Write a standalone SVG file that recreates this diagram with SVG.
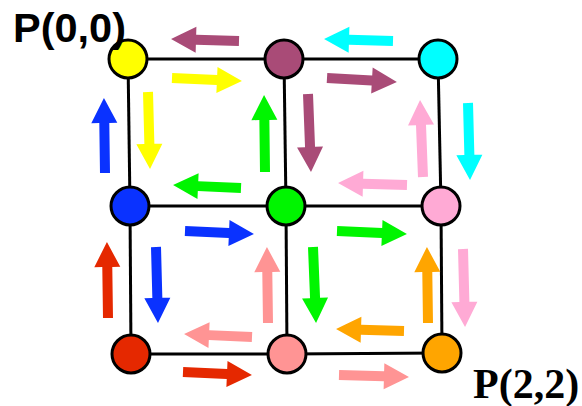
<svg xmlns="http://www.w3.org/2000/svg" width="582" height="406" viewBox="0 0 582 406">
  <style>
    .edge { stroke: #000; stroke-width: 3; fill: none; }
    .node { stroke: #000; stroke-width: 3; }
    .lbl-sans { font-family: "Liberation Sans", Arial, sans-serif; font-weight: bold; font-size: 40px; fill: #000; }
    .lbl-serif { font-family: "Liberation Serif", "Times New Roman", serif; font-weight: bold; font-size: 42px; fill: #000; }
    .yellow { fill: #FFFF00; }
    .purple { fill: #A94B77; }
    .cyan { fill: #00FFFF; }
    .blue { fill: #0A32FF; }
    .green { fill: #00F500; }
    .pink { fill: #FFAAD5; }
    .red { fill: #E52800; }
    .salmon { fill: #FF9494; }
    .orange { fill: #FFA500; }
  </style>

  <!-- grid connectors -->
  <g id="connectors">
    <line class="edge" x1="128" y1="59" x2="284" y2="59"/>
    <line class="edge" x1="284" y1="59" x2="438" y2="59"/>
    <line class="edge" x1="130" y1="206" x2="286" y2="206"/>
    <line class="edge" x1="286" y1="206" x2="441" y2="206"/>
    <line class="edge" x1="131" y1="354" x2="287" y2="354"/>
    <line class="edge" x1="287" y1="354" x2="442" y2="353"/>
    <line class="edge" x1="128" y1="59" x2="130" y2="206"/>
    <line class="edge" x1="130" y1="206" x2="131" y2="354"/>
    <line class="edge" x1="284" y1="59" x2="286" y2="206"/>
    <line class="edge" x1="286" y1="206" x2="287" y2="354"/>
    <line class="edge" x1="438" y1="59" x2="441" y2="206"/>
    <line class="edge" x1="441" y1="206" x2="442" y2="353"/>
  </g>

  <!-- flow arrows: each drawn pointing along +x from its tail, then placed -->
  <g id="arrows">
    <!-- top row -->
    <path class="purple" transform="translate(239,41) rotate(181.7)" d="M0,-5 H43 V-13 L68,0 L43,13 V5 H0 Z"/>
    <path class="yellow" transform="translate(172,78) rotate(2.5)" d="M0,-5 H45 V-13 L70,0 L45,13 V5 H0 Z"/>
    <path class="cyan" transform="translate(393,41) rotate(181.7)" d="M0,-5 H44 V-13 L69,0 L44,13 V5 H0 Z"/>
    <path class="purple" transform="translate(327,78) rotate(3.3)" d="M0,-5 H45 V-13 L70,0 L45,13 V5 H0 Z"/>
    <!-- upper verticals -->
    <path class="blue" transform="translate(105,173) rotate(269.2)" d="M0,-5 H50 V-13 L75,0 L50,13 V5 H0 Z"/>
    <path class="yellow" transform="translate(148,92) rotate(88.5)" d="M0,-5 H52 V-13 L77,0 L52,13 V5 H0 Z"/>
    <path class="green" transform="translate(265,172) rotate(269.3)" d="M0,-5 H52 V-13 L77,0 L52,13 V5 H0 Z"/>
    <path class="purple" transform="translate(308,94) rotate(87.8)" d="M0,-5 H53 V-13 L78,0 L53,13 V5 H0 Z"/>
    <path class="pink" transform="translate(423,177) rotate(267.8)" d="M0,-5 H52 V-13 L77,0 L52,13 V5 H0 Z"/>
    <path class="cyan" transform="translate(468,103) rotate(88.5)" d="M0,-5 H52 V-13 L77,0 L52,13 V5 H0 Z"/>
    <!-- middle row -->
    <path class="green" transform="translate(241,188) rotate(182.5)" d="M0,-5 H43 V-13 L68,0 L43,13 V5 H0 Z"/>
    <path class="blue" transform="translate(185,231) rotate(2.5)" d="M0,-5 H44 V-13 L69,0 L44,13 V5 H0 Z"/>
    <path class="pink" transform="translate(407,185) rotate(181.7)" d="M0,-5 H44 V-13 L69,0 L44,13 V5 H0 Z"/>
    <path class="green" transform="translate(337,231) rotate(2.5)" d="M0,-5 H45 V-13 L70,0 L45,13 V5 H0 Z"/>
    <!-- lower verticals -->
    <path class="red" transform="translate(108,318) rotate(269.2)" d="M0,-5 H51 V-13 L76,0 L51,13 V5 H0 Z"/>
    <path class="blue" transform="translate(156,247) rotate(88.5)" d="M0,-5 H51 V-13 L76,0 L51,13 V5 H0 Z"/>
    <path class="salmon" transform="translate(268,323) rotate(269.2)" d="M0,-5 H51 V-13 L76,0 L51,13 V5 H0 Z"/>
    <path class="green" transform="translate(313,247) rotate(87.7)" d="M0,-5 H51 V-13 L76,0 L51,13 V5 H0 Z"/>
    <path class="orange" transform="translate(428,323) rotate(269.2)" d="M0,-5 H51 V-13 L76,0 L51,13 V5 H0 Z"/>
    <path class="pink" transform="translate(463,249) rotate(88.5)" d="M0,-5 H53 V-13 L78,0 L53,13 V5 H0 Z"/>
    <!-- bottom row -->
    <path class="salmon" transform="translate(252,337) rotate(182.5)" d="M0,-5 H43 V-13 L68,0 L43,13 V5 H0 Z"/>
    <path class="red" transform="translate(183,372) rotate(2.5)" d="M0,-5 H44 V-13 L69,0 L44,13 V5 H0 Z"/>
    <path class="orange" transform="translate(404,331) rotate(181.7)" d="M0,-5 H43 V-13 L68,0 L43,13 V5 H0 Z"/>
    <path class="salmon" transform="translate(339,375) rotate(1.6)" d="M0,-5 H45 V-13 L70,0 L45,13 V5 H0 Z"/>
  </g>

  <!-- grid nodes -->
  <g id="p00"><circle class="node yellow" cx="128" cy="59" r="19"/></g>
  <g id="p01"><circle class="node purple" cx="284" cy="59" r="19"/></g>
  <g id="p02"><circle class="node cyan" cx="438" cy="59" r="19"/></g>
  <g id="p10"><circle class="node blue" cx="130" cy="206" r="19"/></g>
  <g id="p11"><circle class="node green" cx="286" cy="206" r="19"/></g>
  <g id="p12"><circle class="node pink" cx="441" cy="206" r="19"/></g>
  <g id="p20"><circle class="node red" cx="131" cy="354" r="19"/></g>
  <g id="p21"><circle class="node salmon" cx="287" cy="354" r="19"/></g>
  <g id="p22"><circle class="node orange" cx="442" cy="353" r="19"/></g>

  <!-- corner labels -->
  <text class="lbl-sans" x="13" y="42" textLength="113" lengthAdjust="spacingAndGlyphs">P(0,0)</text>
  <text class="lbl-serif" x="473" y="398">P(2,2)</text>
</svg>
